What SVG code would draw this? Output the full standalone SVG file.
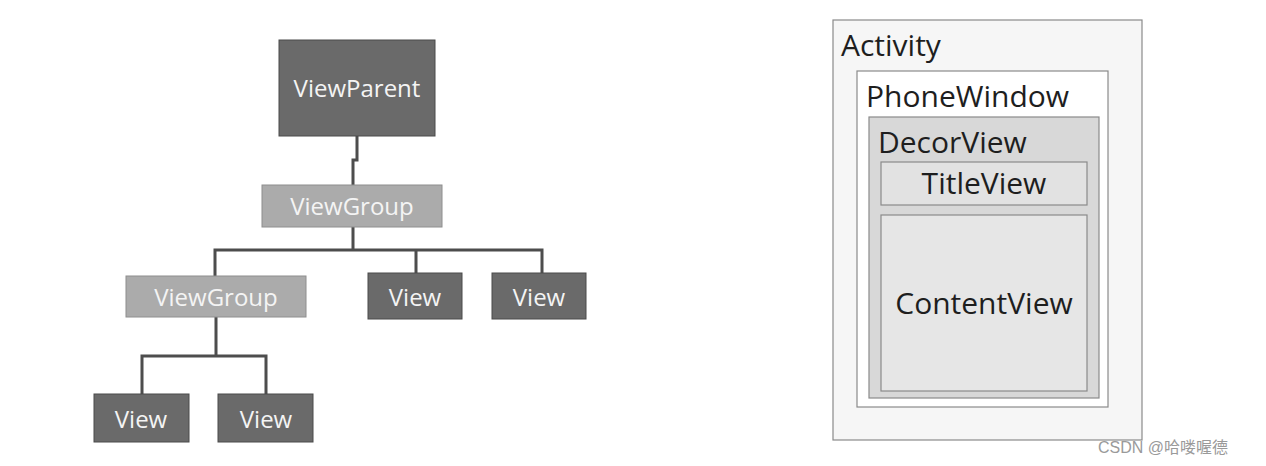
<svg xmlns="http://www.w3.org/2000/svg" width="1266" height="466" viewBox="0 0 1266 466">
<style>
.dark{fill:#6a6a6a;stroke:#4a4a4a;stroke-width:1}
.light{fill:#ababab;stroke:#8e8e8e;stroke-width:1}
.wt{font-family:"Open Sans","Liberation Sans",sans-serif;font-size:24px;fill:#f4f4f4;text-anchor:middle}
.conn{fill:none;stroke:#4d4d4d;stroke-width:3}
.box{stroke:#8a8a8a;stroke-width:1.2}
.bt{font-family:"Open Sans","Liberation Sans",sans-serif;font-size:30px;fill:#1e1e1e}
.wm{font-family:"Liberation Sans","Noto Sans CJK SC",sans-serif;font-size:16px;fill:#9a9a9a}
</style>
<rect width="1266" height="466" fill="#ffffff"/>
<g id="connectors">
<path class="conn" d="M357,136 V160 H353 V185"/>
<path class="conn" d="M353,227 V250 M215,276 V250 H542 V273 M416,250 V273"/>
<path class="conn" d="M216,317 V356 M142,394 V356 H266 V394"/>
</g>
<g id="viewparent"><rect class="dark" x="279" y="40" width="156" height="96"/><text class="wt" x="357" y="97">ViewParent</text></g>
<g id="viewgroup1"><rect class="light" x="262" y="185" width="180" height="42"/><text class="wt" x="352" y="215">ViewGroup</text></g>
<g id="viewgroup2"><rect class="light" x="126" y="276" width="180" height="41"/><text class="wt" x="216" y="306">ViewGroup</text></g>
<g id="view-a"><rect class="dark" x="368" y="273" width="94" height="46"/><text class="wt" x="415" y="306">View</text></g>
<g id="view-b"><rect class="dark" x="492" y="273" width="94" height="46"/><text class="wt" x="539" y="306">View</text></g>
<g id="view-c"><rect class="dark" x="94" y="394" width="95" height="48"/><text class="wt" x="141" y="428">View</text></g>
<g id="view-d"><rect class="dark" x="218" y="394" width="95" height="48"/><text class="wt" x="266" y="428">View</text></g>
<g id="activity"><rect class="box" x="833" y="20" width="309" height="420" fill="#f6f6f6"/><text class="bt" x="841" y="56">Activity</text></g>
<g id="phonewindow"><rect class="box" x="857" y="71" width="251" height="336" fill="#ffffff"/><text class="bt" x="866" y="107">PhoneWindow</text></g>
<g id="decorview"><rect class="box" x="869" y="117" width="230" height="281" fill="#d8d8d8"/><text class="bt" x="878" y="153">DecorView</text></g>
<g id="titleview"><rect class="box" x="881" y="162" width="206" height="43" fill="#e2e2e2"/><text class="bt" x="984" y="194" text-anchor="middle">TitleView</text></g>
<g id="contentview"><rect class="box" x="881" y="215" width="206" height="176" fill="#e6e6e6"/><text class="bt" x="984" y="314" text-anchor="middle">ContentView</text></g>
<text class="wm" x="1098" y="453">CSDN @哈喽喔德</text>
</svg>
